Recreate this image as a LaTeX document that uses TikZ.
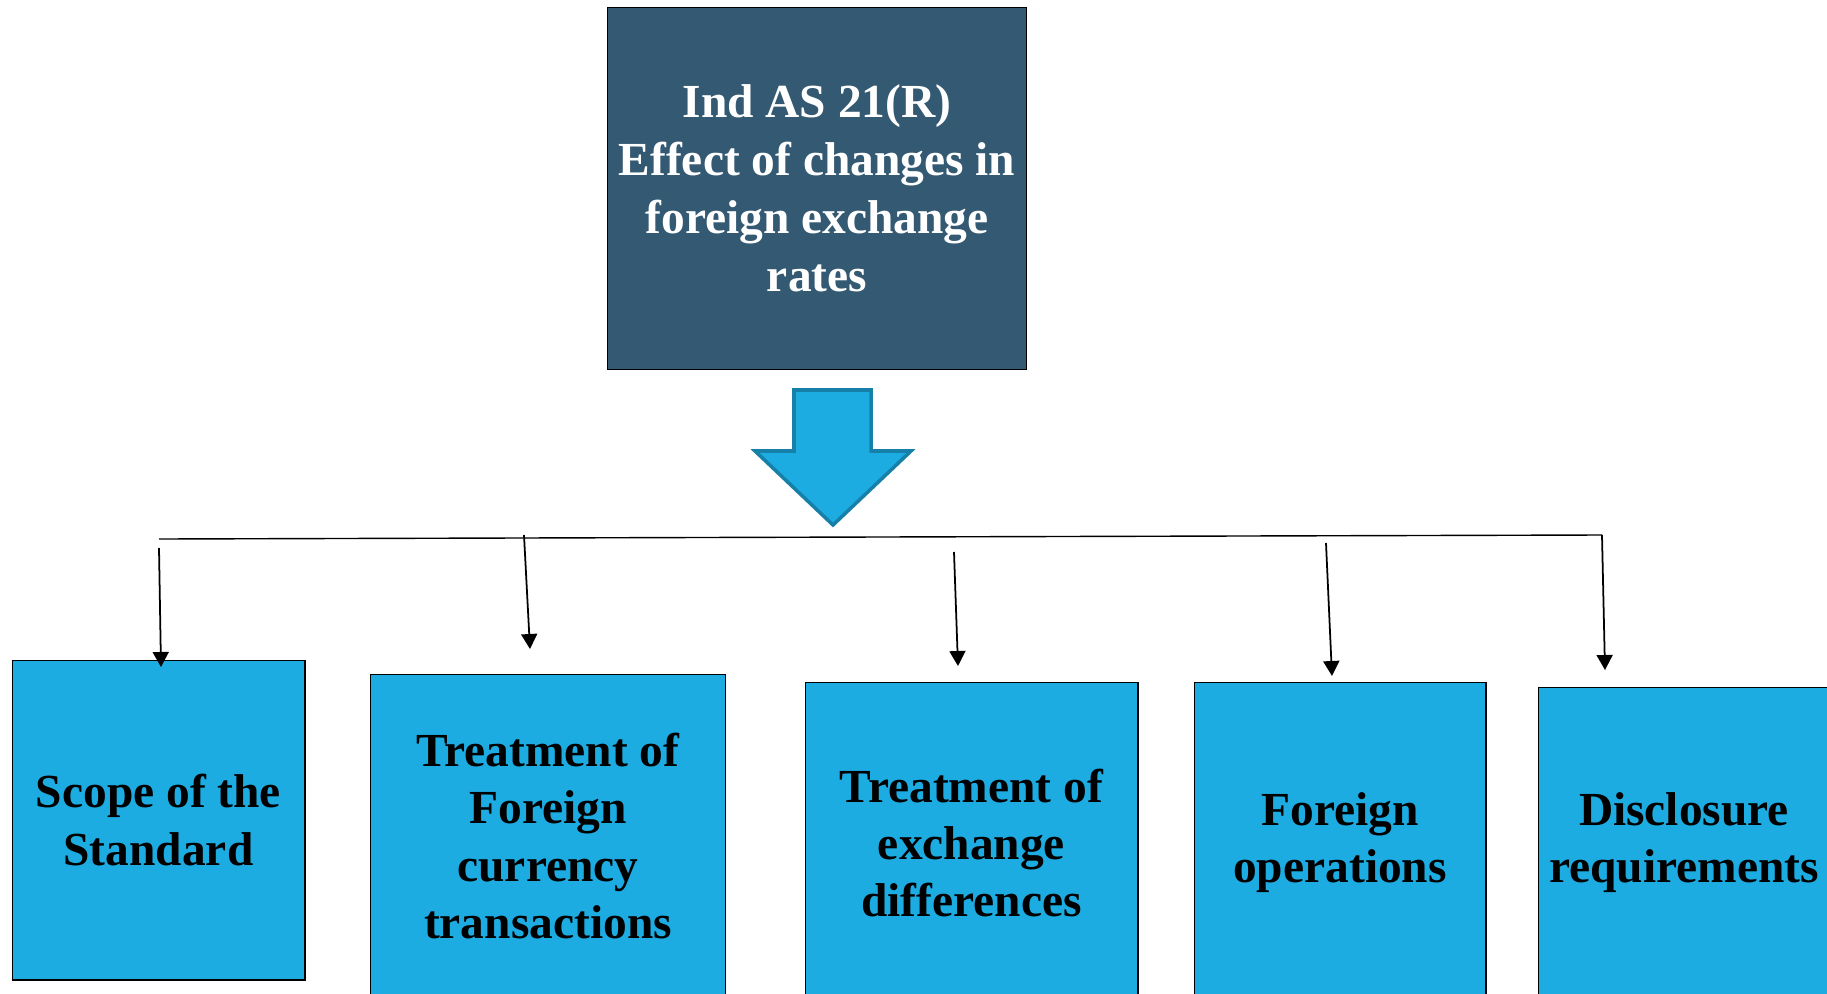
\documentclass[tikz,border=0pt]{standalone}
\usepackage{fontspec}
\setmainfont{Liberation Serif}
\usepackage{tikz}
\usetikzlibrary{arrows.meta,positioning}
\definecolor{topblue}{RGB}{52,90,115}
\definecolor{leafblue}{RGB}{29,172,226}
\definecolor{arrowedge}{RGB}{22,128,168}

\begin{document}
\begin{tikzpicture}[x=0.02cm, y=-0.02cm,
                    topbox/.style={draw=black, line width=0.6pt, fill=topblue, text=white, align=center,
                                   font=\fontsize{27}{33}\selectfont\bfseries, inner sep=0pt},
                    leaf/.style={draw=black, line width=0.6pt, fill=leafblue, text=black, align=center,
                                 font=\fontsize{27}{32.5}\selectfont\bfseries, inner sep=0pt},
                    stem/.style={line width=1pt, -{Triangle[width=0.32cm,length=0.3cm]}}]
                    \useasboundingbox (0,0) rectangle (1827,994);
                    \clip (0,0) rectangle (1827,994);
                    \node [topbox, minimum width=8.4cm, minimum height=7.26cm] (root) at (817,188.5)
                        {Ind AS 21(R)\\Effect of changes in\\foreign exchange\\rates};
                    \draw [fill=leafblue, draw=arrowedge, line width=2pt, line join=miter]
                        (794,390) -- (871,390) -- (871,451) -- (911,451) -- (833,525)
                        -- (755,451) -- (794,451) -- cycle;
                    \node [leaf, minimum width=5.86cm, minimum height=6.4cm] (scope) at (158.5,820)
                        {Scope of the\\Standard};
                    \node [leaf, minimum width=7.12cm, minimum height=6.48cm] (treatfc) at (548,836)
                        {Treatment of\\Foreign\\currency\\transactions};
                    \node [leaf, minimum width=6.66cm, minimum height=6.44cm] (treatex) at (971.5,843)
                        {Treatment of\\exchange\\differences};
                    \node [leaf, minimum width=5.84cm, minimum height=6.44cm] (foreign) at (1340,843)
                        {Foreign\\operations};
                    \node [leaf, minimum width=5.84cm, minimum height=6.24cm] (disclose) at (1684,843)
                        {Disclosure\\requirements};
                    \coordinate (barL) at (159,539);
                    \coordinate (barR) at (1602,535);
                    \coordinate (scopeS) at (159,548);
                    \coordinate (scopeT) at (161,667);
                    \coordinate (treatfcS) at (524,535);
                    \coordinate (treatfcT) at (530,649);
                    \coordinate (treatexS) at (954,552);
                    \coordinate (treatexT) at (958,666);
                    \coordinate (foreignS) at (1326,543);
                    \coordinate (foreignT) at (1332,676);
                    \coordinate (discloseT) at (1605,670);
                    \draw [line width=0.8pt] (barL) -- (barR);
                    \draw [stem] (barR) -- (discloseT);
                    \draw [stem] (scopeS) -- (scopeT);
                    \draw [stem] (treatfcS) -- (treatfcT);
                    \draw [stem] (treatexS) -- (treatexT);
                    \draw [stem] (foreignS) -- (foreignT);
                \end{tikzpicture}
\end{document}
